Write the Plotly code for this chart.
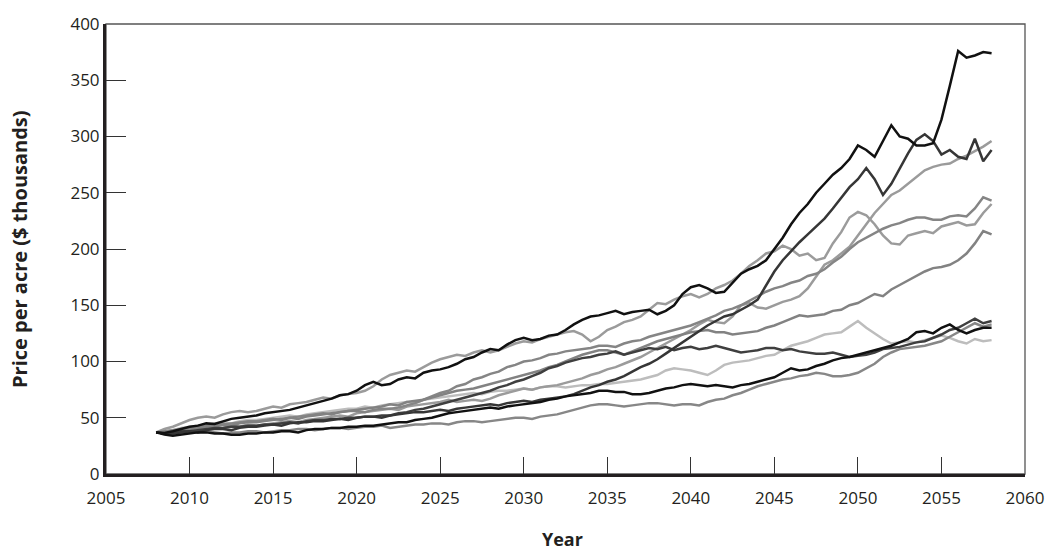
import plotly.graph_objects as go

# Simulated farmland price paths, $ thousands per acre, half-year steps from 2008
start_year = 2008
step = 0.5

path_a = [37,36.5,38,40,42,43,45,44.5,47,49,50,51,52,54,55,56,57,59,61,63,65,67,70,71,74,79,82,79,80,84,86,85,90,92,93,95,98,102,104,108,111,110,115,119,121,119,120,123,124,128,133,137,140,141,143,145,142,144,145,146,142,145,150,160,166,168,165,161,162,170,178,182,185,190,200,210,222,232,240,250,258,266,272,280,292,288,282,296,310,300,298,292,292,294,315,345,376,370,372,375,374]
path_b = [37,36,36,37,38,37,39,40,40,39,41,42,42,43,44,43,45,46,46,47,47,48,49,48,50,51,51,50,52,53,54,55,55,56,57,56,58,59,60,61,62,61,63,64,65,64,66,67,68,69,71,74,77,79,82,84,87,91,95,98,102,107,112,117,122,127,132,136,140,142,146,150,155,168,180,190,198,206,213,220,227,236,245,255,262,272,262,248,258,272,285,297,302,296,284,288,282,280,298,278,288]
path_c = [37,38,37,38,39,41,40,41,41,43,42,44,43,44,45,46,47,46,48,49,50,51,52,51,54,55,56,57,58,57,60,61,62,63,64,66,64,65,66,65,67,70,72,74,76,75,77,78,79,81,83,85,88,90,93,95,98,101,104,108,112,116,120,124,128,133,137,135,134,140,150,152,148,147,150,153,155,158,165,175,186,190,196,202,212,222,232,240,248,252,258,264,270,273,275,276,280,283,287,291,296]
path_d = [37,38,39,40,41,42,43,42,44,45,46,47,47,48,49,48,50,51,52,53,54,53,55,56,56,55,57,58,58,59,61,63,66,69,72,74,78,80,84,86,89,91,95,97,100,101,103,106,107,109,110,111,112,114,114,113,116,118,119,122,124,126,128,130,132,135,138,141,145,147,150,154,158,162,165,167,170,172,176,178,182,188,193,200,206,210,214,218,221,223,226,228,228,226,226,229,230,229,236,246,243]
path_e = [37,40,42,45,48,50,51,50,53,55,56,55,56,58,60,59,62,63,64,66,68,67,70,71,72,74,78,84,88,90,92,91,95,99,102,104,106,105,108,110,108,110,113,116,118,117,120,122,124,126,127,124,118,122,128,131,135,137,140,146,152,151,155,158,160,157,160,165,168,172,178,185,190,196,198,203,200,194,196,190,192,205,215,228,233,230,222,212,205,204,212,214,216,214,220,222,224,221,222,232,240]
path_f = [37,37,38,39,40,41,42,43,44,43,45,46,46,47,48,49,50,49,51,52,53,54,55,56,57,58,59,60,62,61,64,65,66,68,70,72,74,75,76,78,80,82,84,86,88,90,92,95,97,100,103,106,108,110,110,108,106,109,112,115,118,120,122,124,126,127,128,126,126,124,125,126,127,130,132,135,138,141,140,141,142,145,146,150,152,156,160,158,164,168,172,176,180,183,184,186,190,196,205,216,213]
path_g = [37,38,39,41,42,43,44,45,46,45,47,48,48,49,50,51,52,51,53,54,55,56,57,58,58,60,59,61,62,63,64,63,66,67,68,69,70,71,72,71,73,74,74,75,76,75,77,78,78,77,78,79,79,80,80,81,82,83,84,86,88,92,94,93,92,90,88,92,97,99,100,101,103,105,106,110,114,116,118,121,124,125,126,131,136,130,125,120,116,117,118,117,119,121,123,121,118,116,120,118,119]
path_h = [37,35,34,35,36,37,37,36,36,35,35,36,36,37,37,38,38,37,39,40,40,41,41,42,42,43,43,44,45,46,46,48,49,50,52,54,55,56,57,58,59,58,60,61,62,63,64,66,67,69,70,71,72,74,74,73,73,71,71,72,74,76,77,79,80,79,78,79,78,77,79,80,82,84,86,90,94,92,93,96,98,101,103,104,106,108,110,112,114,117,120,126,127,125,130,133,128,125,128,130,130]
path_i = [37,36,37,38,38,39,40,41,41,42,42,43,43,44,44,45,46,45,47,48,48,49,49,50,50,51,51,52,52,54,55,57,58,60,62,64,66,68,70,72,74,77,79,82,84,87,90,94,96,99,101,103,104,106,107,109,106,108,110,112,111,113,110,112,113,111,112,114,112,110,108,109,110,112,112,110,111,109,108,107,107,108,106,104,105,106,108,111,112,113,115,117,118,121,124,128,130,134,138,134,136]
path_j = [37,36,36,37,37,38,38,37,36,37,37,38,38,37,38,39,39,40,40,39,40,41,41,40,41,42,42,43,41,42,43,44,44,45,45,44,46,47,47,46,47,48,49,50,50,49,51,52,53,55,57,59,61,62,62,61,60,61,62,63,63,62,61,62,62,61,64,66,67,70,72,75,78,80,82,84,85,87,88,90,89,87,87,88,90,94,98,104,108,111,112,113,114,116,118,122,126,130,134,131,133]

# drawing order: lighter paths underneath, dark ones on top
paths = [
    (path_g, "#bdbdbd"),
    (path_c, "#9b9b9b"),
    (path_e, "#9b9b9b"),
    (path_d, "#858585"),
    (path_f, "#828282"),
    (path_j, "#878787"),
    (path_i, "#3f3f3f"),
    (path_b, "#363636"),
    (path_h, "#111111"),
    (path_a, "#111111"),
]

year_ticks = list(range(2005, 2061, 5))
price_ticks = list(range(0, 401, 50))

fig = go.Figure()
for values, colour in paths:
    years = [start_year + step * i for i in range(len(values))]
    fig.add_trace(go.Scatter(
        x=years, y=values, mode="lines",
        line=dict(color=colour, width=2.5),
        hoverinfo="skip", showlegend=False,
    ))

font_family = "Open Sans, Noto Sans, sans-serif"
text_colour = "#231f20"

fig.update_layout(
    width=1061, height=554,
    margin=dict(l=106, r=36, t=15, b=80),
    paper_bgcolor="white", plot_bgcolor="white",
    font=dict(family=font_family, size=17, color=text_colour),
    shapes=[dict(type="rect", xref="paper", yref="paper", x0=0, y0=0, x1=1, y1=1,
                 line=dict(color="#555555", width=1.3), layer="below")],
    annotations=[
        dict(text="<b>Price per acre ($ thousands)</b>", xref="paper", yref="paper",
             x=-0.0947, y=0.5, textangle=-90, showarrow=False,
             xanchor="center", yanchor="middle", font=dict(size=20)),
        dict(text="<b>Year</b>", xref="paper", yref="paper",
             x=0.497, y=-0.1438, showarrow=False,
             xanchor="center", yanchor="middle", font=dict(size=18)),
    ],
)
fig.update_xaxes(
    range=[2005, 2060], tickvals=year_ticks, ticktext=[str(v) for v in year_ticks],
    ticks="inside", ticklen=17, tickwidth=1.2, tickcolor="#333333",
    ticklabelstandoff=7,
    showline=True, linewidth=3, linecolor="#231f20",
    showgrid=False, zeroline=False, fixedrange=True,
)
fig.update_yaxes(
    range=[0, 400], tickvals=price_ticks, ticktext=[str(v) for v in price_ticks],
    ticks="inside", ticklen=20, tickwidth=1.2, tickcolor="#333333",
    showline=True, linewidth=3, linecolor="#231f20",
    showgrid=False, zeroline=False, fixedrange=True,
)

fig.write_html("out.html")
